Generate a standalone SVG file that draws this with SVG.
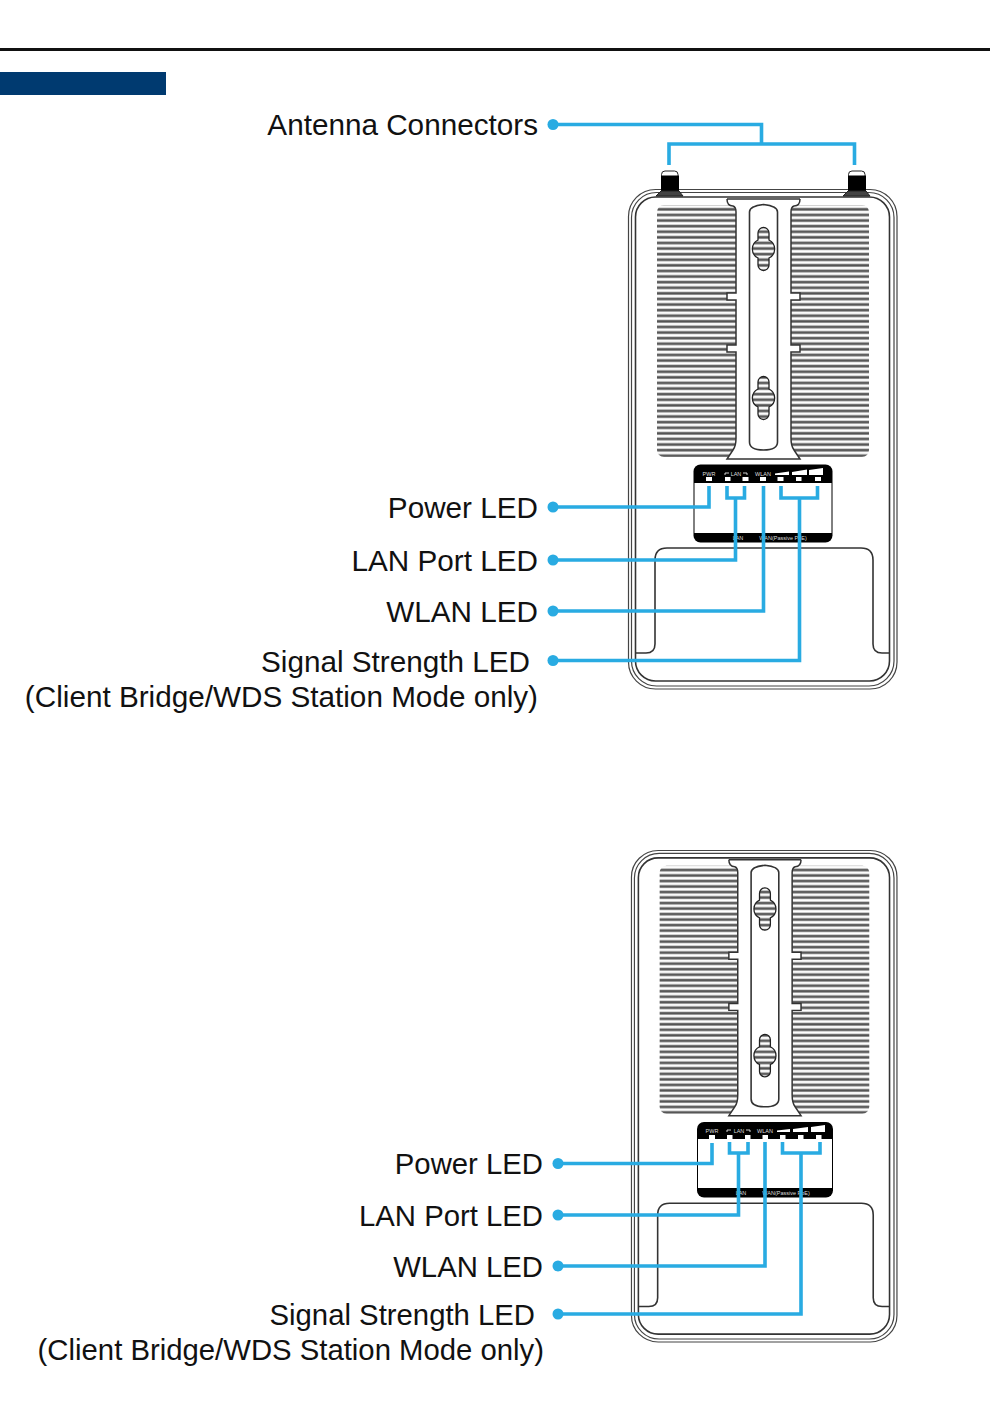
<svg xmlns="http://www.w3.org/2000/svg" width="990" height="1403" viewBox="0 0 990 1403">
<style>
.label{font-family:"Liberation Sans",Arial,sans-serif;font-size:29.7px;fill:#111;text-anchor:end}
.l2{font-size:29.3px}
.ln{fill:none;stroke:#444;stroke-width:1.2}
.th{fill:none;stroke:#333;stroke-width:1.6}
.wire{fill:none;stroke:#29abe2;stroke-width:3.6}
.dot{fill:#29abe2}
.tiny{font-family:"Liberation Sans",Arial,sans-serif;font-size:5.5px;fill:#ddd;text-anchor:middle}
.win{fill:#fff}
</style>
<defs>
<pattern id="fins" width="6" height="5.6" patternUnits="userSpaceOnUse">
<rect width="6" height="5.6" fill="#fff"/>
<rect y="0.6" width="6" height="3.2" fill="#888"/>
<rect y="1.4" width="6" height="1.2" fill="#444"/>
</pattern>
<g id="body">
<rect class="ln" x="628.5" y="189.5" width="268.5" height="499.5" rx="27"/>
<rect class="ln" x="631.5" y="192.5" width="262.5" height="493.5" rx="25"/>
<rect class="th" x="635.5" y="197" width="254" height="484" rx="20"/>
<rect x="657" y="205" width="79" height="252" rx="7" fill="url(#fins)"/>
<rect x="791" y="205" width="78" height="252" rx="7" fill="url(#fins)"/>
<path d="M727 199H800M727 199Q727 206 733 206Q736 207 736 212V293H727V300H736V345H727V352H736V438Q736 446 733 450L727 459H800L794 450Q791 446 791 438V352H800V345H791V300H800V293H791V212Q791 207 794 206Q800 206 800 199" fill="#fff" stroke="#333" stroke-width="1.5"/>
<path class="th" d="M749.5 212Q749.5 206 763.5 204.500Q777.500 206 777.500 212V442Q777.500 450 763.500 450Q749.500 450 749.500 442Z"/>
<path d="M758 233a5.500 5.500 0 0 1 11 0v7a10 10 0 0 1 0 18v7a5.500 5.500 0 0 1-11 0v-7a10 10 0 0 1 0-18Z" fill="url(#fins)" stroke="#222" stroke-width="1.300"/>
<path d="M758 382a5.500 5.500 0 0 1 11 0v7a10 10 0 0 1 0 18v7a5.500 5.500 0 0 1-11 0v-7a10 10 0 0 1 0-18Z" fill="url(#fins)" stroke="#222" stroke-width="1.300"/>
<path class="th" d="M636 653H646Q655 653 655 644V560Q655 548 667 548H861Q873 548 873 560V644Q873 653 882 653H889"/>
</g>
</defs>

<g id="header">
<rect x="0" y="48" width="990" height="3" fill="#111"/>
<rect x="0" y="72" width="166" height="23" fill="#003a70"/>
</g>

<g id="device-top">
<use href="#body"/>
<g id="antenna-left">
<rect x="661.500" y="171" width="16.500" height="8" rx="3.500" fill="#fff" stroke="#222" stroke-width="1"/>
<rect x="661" y="175.500" width="18" height="17" fill="#000"/>
<path d="M656 196L661 191H679L683 196Z" fill="#444" stroke="#222" stroke-width="1"/>
</g>
<g id="antenna-right">
<rect x="848.500" y="171" width="16.500" height="8" rx="3.500" fill="#fff" stroke="#222" stroke-width="1"/>
<rect x="848" y="175.500" width="18" height="17" fill="#000"/>
<path d="M843 196L848 191H866L870 196Z" fill="#444" stroke="#222" stroke-width="1"/>
</g>
</g>

<g id="led-panel-top">
<rect x="693.500" y="464.500" width="139" height="78" rx="7" fill="#000"/>
<rect x="694.500" y="483" width="137" height="50" fill="#fff"/>
<rect class="win" x="706" y="477" width="6" height="4"/><rect class="win" x="725" y="477" width="5.500" height="4"/><rect class="win" x="742.500" y="477" width="6" height="4"/><rect class="win" x="760" y="477" width="6" height="4"/><rect class="win" x="777.500" y="477" width="6" height="4"/><rect class="win" x="796" y="477" width="5.500" height="4"/><rect class="win" x="815" y="477" width="6" height="4"/>
<text class="tiny" x="709" y="475.500">PWR</text><text class="tiny" x="736" y="475.500">LAN</text><text class="tiny" x="763" y="475.500">WLAN</text>
<path d="M725 475V473H729M747 473H743M747 473V475" fill="none" stroke="#fff" stroke-width="0.800"/>
<path d="M775 475V473.500L789 471.500V475ZM792 475V472L807 469.500V475ZM809 475V470L823 468V475Z" fill="#fff"/>
<text class="tiny" x="738" y="540">LAN</text><text class="tiny" x="783" y="540">WAN(Passive PoE)</text>
</g>

<g id="device-bottom">
<use href="#body" transform="translate(10 664) scale(0.9888 0.984)"/>
</g>

<g id="led-panel-bottom">
<rect x="697" y="1122" width="136" height="75.500" rx="7" fill="#000"/>
<rect x="698" y="1139" width="134" height="49" fill="#fff"/>
<rect class="win" x="709" y="1135" width="6" height="4"/><rect class="win" x="727" y="1135" width="5.500" height="4"/><rect class="win" x="745" y="1135" width="5.500" height="4"/><rect class="win" x="762.500" y="1135" width="5.500" height="4"/><rect class="win" x="780" y="1135" width="5.500" height="4"/><rect class="win" x="798" y="1135" width="5.500" height="4"/><rect class="win" x="816" y="1135" width="5.500" height="4"/>
<text class="tiny" x="712" y="1132.500">PWR</text><text class="tiny" x="739" y="1132.500">LAN</text><text class="tiny" x="765" y="1132.500">WLAN</text>
<path d="M727 1132V1130H731M750 1130H746M750 1130V1132" fill="none" stroke="#fff" stroke-width="0.800"/>
<path d="M777 1132V1130.500L790 1129V1132ZM793 1132V1129L808 1127V1132ZM811 1132V1127L825 1125V1132Z" fill="#fff"/>
<text class="tiny" x="741" y="1195">LAN</text><text class="tiny" x="786" y="1195">WAN(Passive PoE)</text>
</g>

<g id="connectors">
<path class="wire" d="M553 124.500H761.500V144M669 165V144H854.500V165"/>
<path class="wire" d="M553 507H709V486"/>
<path class="wire" d="M553 560H735.500V498M727 486V498H744.500V486"/>
<path class="wire" d="M553 611H763.500V486"/>
<path class="wire" d="M553 660.500H799.500V498M781 486V498H817.500V486"/>
<path class="wire" d="M558 1163.500H712V1143"/>
<path class="wire" d="M558 1215H738.500V1153M729.500 1142V1153H748V1142"/>
<path class="wire" d="M558 1266H765V1142"/>
<path class="wire" d="M558 1314H801V1153M782.500 1142V1153H820V1142"/>
<circle class="dot" cx="553" cy="124.500" r="5.500"/><circle class="dot" cx="553" cy="507" r="5.500"/><circle class="dot" cx="553" cy="560" r="5.500"/><circle class="dot" cx="553" cy="611" r="5.500"/><circle class="dot" cx="553" cy="660.500" r="5.500"/>
<circle class="dot" cx="558" cy="1163.500" r="5.500"/><circle class="dot" cx="558" cy="1215" r="5.500"/><circle class="dot" cx="558" cy="1266" r="5.500"/><circle class="dot" cx="558" cy="1314" r="5.500"/>
</g>

<g id="labels">
<text class="label" x="538" y="134.700">Antenna Connectors</text>
<text class="label" x="538" y="517.700">Power LED</text>
<text class="label" x="538" y="570.700">LAN Port LED</text>
<text class="label" x="538" y="622">WLAN LED</text>
<text class="label" x="530" y="671.500">Signal Strength LED</text>
<text class="label" x="538" y="706.700">(Client Bridge/WDS Station Mode only)</text>
<text class="label l2" x="543" y="1173.700">Power LED</text>
<text class="label l2" x="543" y="1225.700">LAN Port LED</text>
<text class="label l2" x="543" y="1276.500">WLAN LED</text>
<text class="label l2" x="535" y="1324.500">Signal Strength LED</text>
<text class="label l2" x="544" y="1359.700">(Client Bridge/WDS Station Mode only)</text>
</g>
</svg>
